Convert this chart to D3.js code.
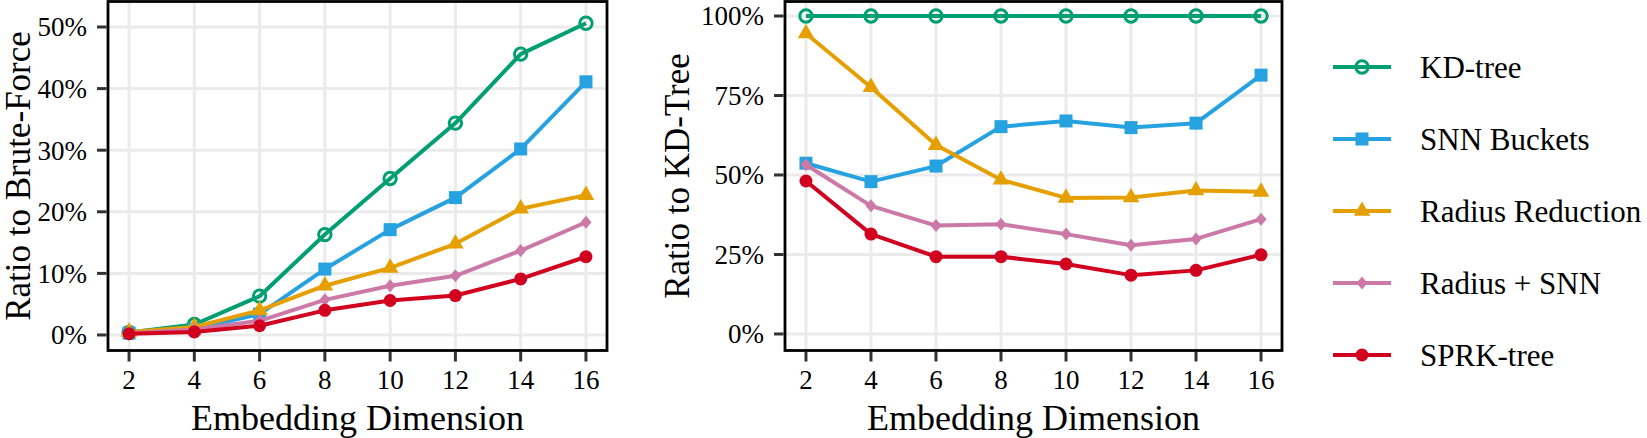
<!DOCTYPE html>
<html>
<head>
<meta charset="utf-8">
<script src="https://cdn.jsdelivr.net/npm/d3@7"></script>
<style>
  body { margin: 0; background: #fff; }
</style>
</head>
<body>
<svg width="1647" height="438"></svg>
<script>
// embedding dimension
const dims = [2, 4, 6, 8, 10, 12, 14, 16];

const seriesNames = ['KD-tree', 'SNN Buckets', 'Radius Reduction', 'Radius + SNN', 'SPRK-tree'];
const seriesColors = ['#009e73', '#27a2e0', '#e69f00', '#cc79a7', '#d2001f'];
const seriesShapes = ['ring', 'square', 'triangle', 'diamond', 'circle'];

// ratio to brute force (left)
const bfKD     = [0.004, 0.017, 0.063, 0.163, 0.254, 0.344, 0.456, 0.506];
const bfSNN    = [0.003, 0.010, 0.034, 0.107, 0.171, 0.223, 0.302, 0.411];
const bfRadius = [0.005, 0.013, 0.040, 0.080, 0.109, 0.148, 0.205, 0.227];
const bfRadSNN = [0.003, 0.009, 0.023, 0.057, 0.080, 0.096, 0.137, 0.183];
const bfSPRK   = [0.002, 0.005, 0.015, 0.040, 0.056, 0.064, 0.091, 0.127];

// ratio to KD-tree (right)
const kdKD     = [1, 1, 1, 1, 1, 1, 1, 1];
const kdSNN    = [0.537, 0.479, 0.528, 0.652, 0.670, 0.649, 0.663, 0.814];
const kdRadius = [0.945, 0.776, 0.594, 0.485, 0.428, 0.429, 0.451, 0.447];
const kdRadSNN = [0.532, 0.403, 0.341, 0.345, 0.314, 0.279, 0.299, 0.361];
const kdSPRK   = [0.481, 0.314, 0.243, 0.243, 0.220, 0.185, 0.200, 0.249];

const leftTicks = [0, 0.1, 0.2, 0.3, 0.4, 0.5];
const rightTicks = [0, 0.25, 0.5, 0.75, 1];

const svg = d3.select('svg')
  .attr('font-family', "'Liberation Serif', 'Times New Roman', serif");
const fmtPct = d3.format('.0%');

const panels = [
  { x0: 108, x1: 607, yDomain: [-0.0252, 0.5414], ticks: leftTicks, title: 'Ratio to Brute-Force', titleX: 30,
    values: [bfKD, bfSNN, bfRadius, bfRadSNN, bfSPRK] },
  { x0: 785, x1: 1282, yDomain: [-0.052, 1.0456], ticks: rightTicks, title: 'Ratio to KD-Tree', titleX: 689,
    values: [kdKD, kdSNN, kdRadius, kdRadSNN, kdSPRK] }
];

const plotTop = 1.5, plotBottom = 350.5;

function drawMarker(g, shape, color) {
  if (shape === 'ring') {
    g.append('circle').attr('r', 6.2).attr('fill', 'none').attr('stroke', color).attr('stroke-width', 3);
  } else if (shape === 'square') {
    g.append('rect').attr('x', -6.5).attr('y', -6.5).attr('width', 13).attr('height', 13).attr('fill', color);
  } else if (shape === 'triangle') {
    g.append('path').attr('d', d3.symbol(d3.symbolTriangle, 120)()).attr('fill', color);
  } else if (shape === 'diamond') {
    g.append('path').attr('d', 'M0,-6.5L5.5,0L0,6.5L-5.5,0Z').attr('fill', color);
  } else {
    g.append('circle').attr('r', 6.5).attr('fill', color);
  }
}

panels.forEach((p) => {
  const x = d3.scaleLinear().domain([1.355, 16.645]).range([p.x0, p.x1]);
  const y = d3.scaleLinear().domain(p.yDomain).range([plotBottom, plotTop]);
  const g = svg.append('g');

  // grid
  g.selectAll('.gx').data(dims).enter().append('line')
    .attr('x1', d => x(d)).attr('x2', d => x(d))
    .attr('y1', plotTop).attr('y2', plotBottom)
    .attr('stroke', '#ebebeb').attr('stroke-width', 3);
  g.selectAll('.gy').data(p.ticks).enter().append('line')
    .attr('x1', p.x0).attr('x2', p.x1)
    .attr('y1', d => y(d)).attr('y2', d => y(d))
    .attr('stroke', '#ebebeb').attr('stroke-width', 3);

  // series
  const line = d3.line().x((d, i) => x(dims[i])).y(d => y(d));
  p.values.forEach((vals, s) => {
    g.append('path').datum(vals)
      .attr('d', line)
      .attr('fill', 'none')
      .attr('stroke', seriesColors[s])
      .attr('stroke-width', 4)
      .attr('stroke-linejoin', 'round');
    vals.forEach((v, i) => {
      const m = g.append('g').attr('transform', `translate(${x(dims[i])},${y(v)})`);
      drawMarker(m, seriesShapes[s], seriesColors[s]);
    });
  });

  // frame
  g.append('rect')
    .attr('x', p.x0).attr('y', plotTop)
    .attr('width', p.x1 - p.x0).attr('height', plotBottom - plotTop)
    .attr('fill', 'none').attr('stroke', '#000').attr('stroke-width', 2.8);

  // x axis ticks
  g.selectAll('.tx').data(dims).enter().append('line')
    .attr('x1', d => x(d)).attr('x2', d => x(d))
    .attr('y1', plotBottom + 1.4).attr('y2', plotBottom + 11)
    .attr('stroke', '#333').attr('stroke-width', 3);
  g.selectAll('.lx').data(dims).enter().append('text')
    .attr('x', d => x(d)).attr('y', 389)
    .attr('text-anchor', 'middle').attr('font-size', 27)
    .text(d => d);

  // y axis ticks
  g.selectAll('.ty').data(p.ticks).enter().append('line')
    .attr('x1', p.x0 - 11).attr('x2', p.x0 - 1.4)
    .attr('y1', d => y(d)).attr('y2', d => y(d))
    .attr('stroke', '#333').attr('stroke-width', 3);
  g.selectAll('.ly').data(p.ticks).enter().append('text')
    .attr('x', p.x0 - 21).attr('y', d => y(d)).attr('dy', '.35em')
    .attr('text-anchor', 'end').attr('font-size', 27)
    .text(d => fmtPct(d));

  // titles
  g.append('text')
    .attr('x', (p.x0 + p.x1) / 2).attr('y', 430)
    .attr('text-anchor', 'middle').attr('font-size', 36)
    .text('Embedding Dimension');
  g.append('text')
    .attr('transform', `translate(${p.titleX},${(plotTop + plotBottom) / 2}) rotate(-90)`)
    .attr('text-anchor', 'middle').attr('font-size', 35)
    .text(p.title);
});

// legend
const rowY = d3.scalePoint().domain(seriesNames).range([67, 355]);
const legend = svg.append('g');
seriesNames.forEach((name, s) => {
  const row = legend.append('g').attr('transform', `translate(0,${rowY(name)})`);
  row.append('line').attr('x1', 1333).attr('x2', 1391).attr('y1', 0).attr('y2', 0)
    .attr('stroke', seriesColors[s]).attr('stroke-width', 4);
  drawMarker(row.append('g').attr('transform', 'translate(1362,0)'), seriesShapes[s], seriesColors[s]);
  row.append('text').attr('x', 1420).attr('y', 0).attr('dy', '.35em')
    .attr('font-size', 31).text(name);
});
</script>
</body>
</html>
